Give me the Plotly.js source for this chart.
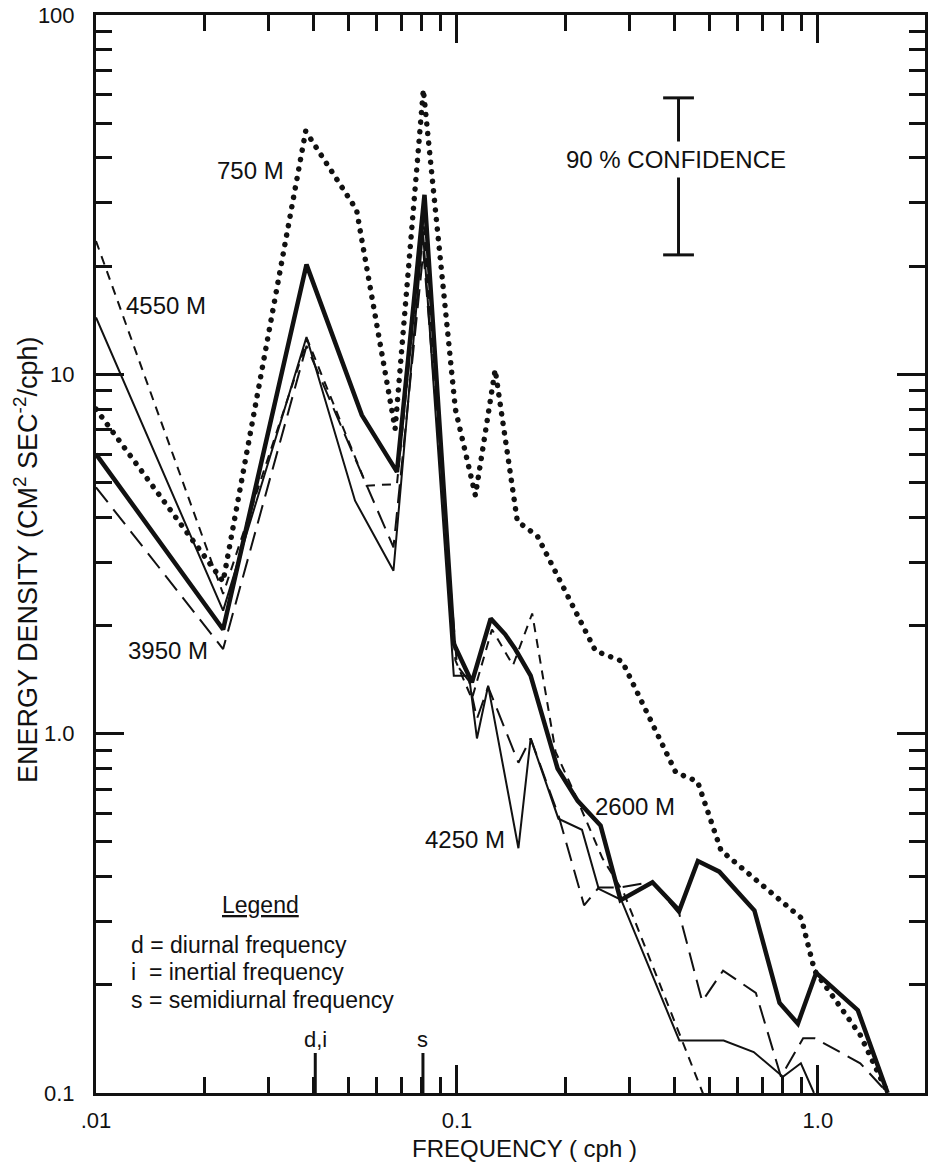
<!DOCTYPE html>
<html>
<head>
<meta charset="utf-8">
<script src="https://cdn.plot.ly/plotly-3.0.1.min.js"></script>
<style>
  html, body { margin: 0; padding: 0; background: #ffffff; }
  #chart { width: 930px; height: 1163px; }
  .scatterlayer .trace.dotted-line path.js-line { stroke-linecap: round !important; }
</style>
</head>
<body>
<div id="chart"></div>
<script>
// ---- Data (frequency in cph, energy density) ----
const freq750  = [0.01, 0.0225, 0.0381, 0.0527, 0.0674, 0.0807, 0.099, 0.1125, 0.1276, 0.147, 0.167, 0.242, 0.287, 0.404, 0.464, 0.539, 0.899, 0.979, 1.31, 1.56];
const dens750  = [8.0, 2.65, 47.5, 28.7, 7.05, 62, 8.0, 4.6, 10.3, 3.9, 3.55, 1.70, 1.59, 0.78, 0.736, 0.473, 0.307, 0.219, 0.145, 0.1];

const freq2600 = [0.01, 0.0225, 0.0383, 0.0545, 0.0682, 0.0813, 0.098, 0.110, 0.124, 0.136, 0.145, 0.160, 0.190, 0.216, 0.250, 0.284, 0.348, 0.413, 0.465, 0.533, 0.667, 0.783, 0.880, 0.989, 1.29, 1.56];
const dens2600 = [6.0, 1.95, 20.2, 7.7, 5.35, 31.6, 1.78, 1.39, 2.09, 1.89, 1.72, 1.45, 0.80, 0.65, 0.555, 0.344, 0.386, 0.322, 0.442, 0.413, 0.322, 0.178, 0.156, 0.216, 0.170, 0.1];

const freq4250 = [0.01, 0.0225, 0.0383, 0.0522, 0.0667, 0.0805, 0.098, 0.108, 0.1136, 0.122, 0.148, 0.160, 0.191, 0.222, 0.247, 0.285, 0.413, 0.548, 0.664, 0.80, 0.897, 0.975];
const dens4250 = [14.4, 2.2, 12.7, 4.45, 2.84, 25, 1.45, 1.45, 0.97, 1.36, 0.48, 0.97, 0.58, 0.54, 0.37, 0.345, 0.14, 0.14, 0.13, 0.111, 0.121, 0.1];

const freq4550 = [0.01, 0.0225, 0.0385, 0.0562, 0.0682, 0.0807, 0.099, 0.110, 0.125, 0.143, 0.1616, 0.1876, 0.208, 0.253, 0.29, 0.5];
const dens4550 = [23.5, 2.45, 12.5, 4.9, 4.95, 27, 1.6, 1.25, 1.95, 1.55, 2.16, 0.89, 0.71, 0.45, 0.36, 0.09];

const freq3950 = [0.01, 0.0225, 0.0383, 0.0667, 0.0807, 0.100, 0.108, 0.1136, 0.122, 0.148, 0.160, 0.191, 0.225, 0.247, 0.281, 0.348, 0.413, 0.478, 0.546, 0.673, 0.79, 0.91, 0.98, 1.31, 1.56];
const dens3950 = [4.85, 1.72, 12.0, 3.3, 22, 1.55, 1.4, 1.1, 1.35, 0.83, 0.97, 0.593, 0.333, 0.373, 0.373, 0.387, 0.315, 0.18, 0.219, 0.19, 0.111, 0.142, 0.142, 0.121, 0.1];

// 90% confidence interval bar
const confFreq = [0.411, 0.411];
const confDens = [21.5, 58.8];

// marked frequencies (d,i and s)
const markFreqs  = [0.0405, 0.0805];
const markLabels = ['d,i', 's'];

// tick values and labels
const xMajorTicks  = [0.01, 0.1, 1];
const xMajorLabels = ['.01', '0.1', '1.0'];
const xMinorTicks  = [0.02, 0.03, 0.04, 0.05, 0.06, 0.07, 0.08, 0.09, 0.2, 0.3, 0.4, 0.5, 0.6, 0.7, 0.8, 0.9];
const yMajorTicks  = [0.1, 1, 10, 100];
const yMajorLabels = ['0.1', '1.0', '10', '100'];
const yMinorTicks  = [0.2, 0.3, 0.4, 0.5, 0.6, 0.7, 0.8, 0.9, 2, 3, 4, 5, 6, 7, 8, 9, 20, 30, 40, 50, 60, 70, 80, 90];

// ---- Layout geometry (pixels) ----
const W = 930, H = 1163;
const L = 96, R = 5, T = 15, B = 70;
const PW = W - L - R, PH = H - T - B;
const px2x = p => (p - L) / PW;
const py2y = p => (H - B - p) / PH;

const INK = '#111111';
const FONT = '"Liberation Sans", Arial, sans-serif';

const traces = [
  { x: freq750, y: dens750, mode: 'lines', name: '750 M', line: { color: INK, width: 5.5, dash: '0.1px,9.5px' } },
  { x: freq4550, y: dens4550, mode: 'lines', name: '4550 M', line: { color: INK, width: 2, dash: '9px,7px' } },
  { x: freq3950, y: dens3950, mode: 'lines', name: '3950 M', line: { color: INK, width: 2, dash: '19px,9px' } },
  { x: freq4250, y: dens4250, mode: 'lines', name: '4250 M', line: { color: INK, width: 2 } },
  { x: freq2600, y: dens2600, mode: 'lines', name: '2600 M', line: { color: INK, width: 4.5 } },
  { x: confFreq, y: confDens, mode: 'lines+markers', name: 'conf', line: { color: INK, width: 3 },
    marker: { symbol: 'line-ew', size: 22, color: INK, line: { width: 3, color: INK } } }
];

const annotations = [];
function label(text, px, py, size, xanchor) {
  annotations.push({ text: text, xref: 'paper', yref: 'paper', x: px2x(px), y: py2y(py),
    xanchor: xanchor || 'center', yanchor: 'middle', showarrow: false,
    font: { family: FONT, size: size, color: INK } });
}
label('750 M', 250, 171, 24);
label('4550 M', 166, 305, 24);
label('3950 M', 168, 650, 24);
label('4250 M', 465, 839, 24);
label('2600 M', 635, 807, 24);
annotations.push({ text: '90 % CONFIDENCE', xref: 'paper', yref: 'paper', x: px2x(676), y: py2y(160),
  xanchor: 'center', yanchor: 'middle', showarrow: false, bgcolor: '#ffffff', borderpad: 4,
  font: { family: FONT, size: 24, color: INK } });
label('<u>Legend</u>', 260, 905, 23);
label('d = diurnal frequency', 129, 945, 23, 'left');
label('i  = inertial frequency', 129, 972, 23, 'left');
label('s = semidiurnal frequency', 129, 1000, 23, 'left');
// axis titles
label('FREQUENCY ( cph )', 524, 1148, 24);
annotations.push({ text: 'ENERGY DENSITY (CM<sup>2</sup> SEC<sup>-2</sup>/cph)', xref: 'paper', yref: 'paper',
  x: px2x(26), y: py2y(560), xanchor: 'center', yanchor: 'middle', textangle: -90, showarrow: false,
  font: { family: FONT, size: 27, color: INK } });

const shapes = [];
markFreqs.forEach((f, i) => {
  shapes.push({ type: 'line', xref: 'x', yref: 'paper', x0: f, x1: f, y0: 0, y1: 40 / PH,
    line: { color: INK, width: 3 } });
  annotations.push({ text: markLabels[i], xref: 'x', yref: 'paper', x: Math.log10(f), y: py2y(1039),
    xanchor: 'center', yanchor: 'middle', showarrow: false, font: { family: FONT, size: 22, color: INK } });
});

const axisCommon = {
  type: 'log', showgrid: false, zeroline: false, showline: true, linecolor: INK, linewidth: 3,
  mirror: 'ticks', ticks: 'inside', tickcolor: INK, tickwidth: 3, ticklen: 28,
  tickmode: 'array', tickfont: { family: FONT, size: 22, color: INK }
};

const layout = {
  width: W, height: H,
  margin: { l: L, r: R, t: T, b: B, pad: 0 },
  paper_bgcolor: '#ffffff', plot_bgcolor: '#ffffff',
  showlegend: false,
  xaxis: Object.assign({}, axisCommon, {
    range: [Math.log10(0.01), Math.log10(1.98)],
    tickvals: xMajorTicks, ticktext: xMajorLabels, ticklabelstandoff: 6,
    minor: { tickmode: 'array', tickvals: xMinorTicks, ticks: 'inside', ticklen: 16, tickwidth: 3, tickcolor: INK, showgrid: false }
  }),
  yaxis: Object.assign({}, axisCommon, {
    range: [-1, 2],
    tickvals: yMajorTicks, ticktext: yMajorLabels, ticklabelstandoff: 14,
    minor: { tickmode: 'array', tickvals: yMinorTicks, ticks: 'inside', ticklen: 16, tickwidth: 3, tickcolor: INK, showgrid: false }
  }),
  annotations: annotations,
  shapes: shapes
};

Plotly.newPlot('chart', traces, layout, { staticPlot: true, displayModeBar: false }).then(gd => {
  const tr = gd.querySelectorAll('.scatterlayer .trace');
  if (tr.length) {
    tr[0].classList.add('dotted-line');
    tr[0].querySelectorAll('path').forEach(p => p.style.strokeLinecap = 'round');
  }
});
</script>
</body>
</html>
